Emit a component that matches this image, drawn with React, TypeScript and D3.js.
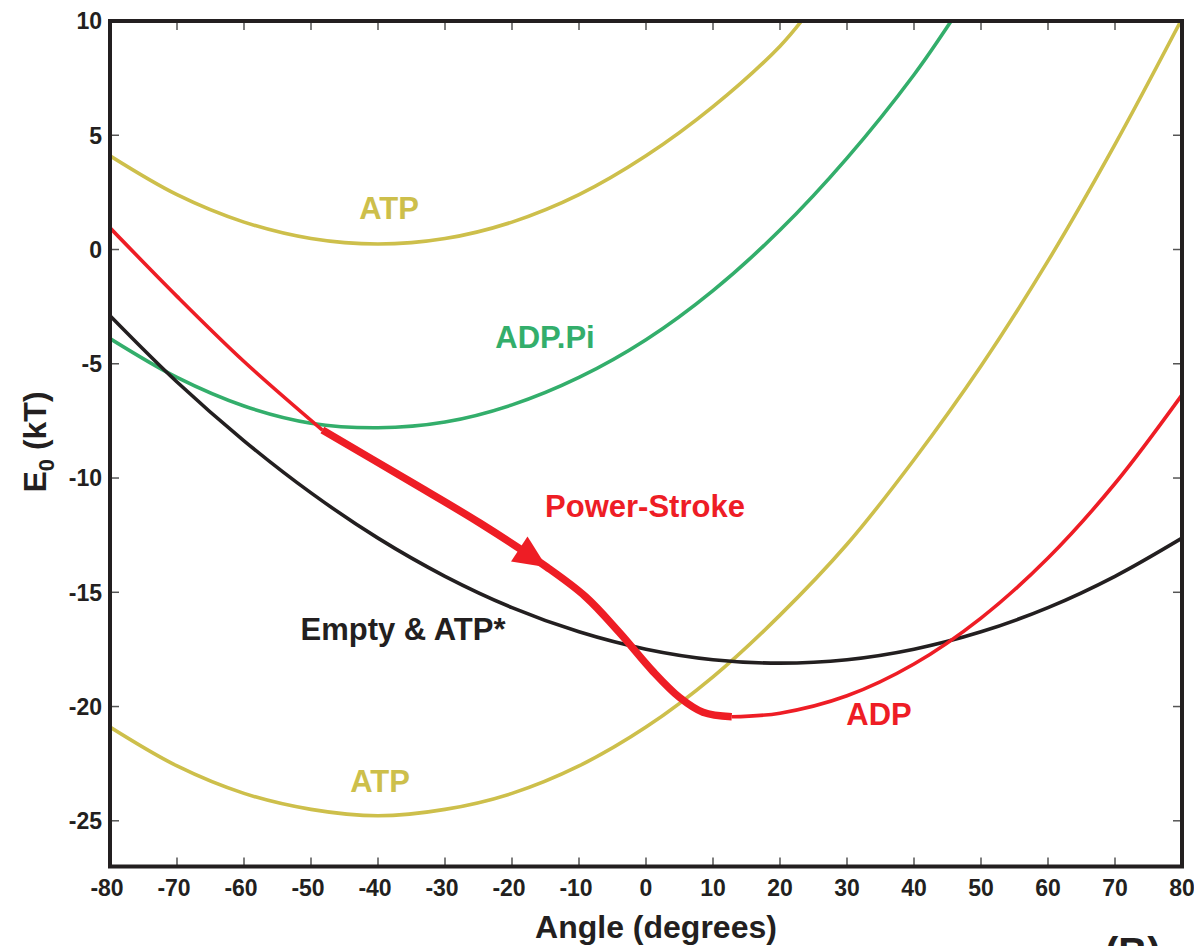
import React from "react";
import * as d3 from "d3";

// Free-energy curves E0 (kT) against lever angle (degrees)
const xTicks = [-80, -70, -60, -50, -40, -30, -20, -10, 0, 10, 20, 30, 40, 50, 60, 70, 80];
const yTicks = [-25, -20, -15, -10, -5, 0, 5, 10];

type Pt = [number, number];

// ATP state (upper well)
const atpUpper: Pt[] = [
  [-80, 4.1], [-70, 2.4], [-60, 1.2], [-50, 0.48], [-40, 0.24], [-30, 0.48],
  [-20, 1.2], [-10, 2.4], [0, 4.1], [10, 6.25], [20, 8.9], [24, 10.3],
];

// ATP state (lower well)
const atpLower: Pt[] = [
  [-80, -20.9], [-70, -22.6], [-60, -23.8], [-50, -24.5], [-40, -24.78], [-30, -24.5],
  [-20, -23.8], [-10, -22.6], [0, -20.9], [10, -18.7], [20, -16.0], [30, -12.9],
  [40, -9.2], [50, -5.1], [60, -0.5], [70, 4.6], [80, 10.1],
];

// ADP.Pi state
const adpPi: Pt[] = [
  [-80, -3.9], [-70, -5.6], [-60, -6.85], [-50, -7.6], [-40, -7.8], [-30, -7.55],
  [-20, -6.8], [-10, -5.6], [0, -3.95], [10, -1.8], [20, 0.85], [30, 4.0],
  [40, 7.65], [46, 10.2],
];

// Empty & ATP* state
const emptyAtp: Pt[] = [
  [-80, -2.9], [-70, -5.8], [-60, -8.37], [-50, -10.65], [-40, -12.63], [-30, -14.3],
  [-20, -15.67], [-10, -16.73], [0, -17.49], [10, -17.95], [20, -18.1], [30, -17.95],
  [40, -17.49], [50, -16.73], [60, -15.67], [70, -14.3], [80, -12.63],
];

// ADP state, before the stroke begins
const adpLeft: Pt[] = [
  [-80, 0.95], [-70, -2.05], [-60, -4.9], [-48.3, -7.9],
];

// Power stroke path (thick)
const powerStroke: Pt[] = [
  [-48.3, -7.9], [-34.8, -10.22], [-24.8, -11.97], [-14.8, -13.9],
  [-9, -15.2], [-4, -16.75], [1, -18.45], [5, -19.6], [8.5, -20.25], [12.8, -20.45],
];
const arrowIndex = 3;

// ADP state, after the stroke
const adpRight: Pt[] = [
  [12.8, -20.45], [20, -20.29], [30, -19.53], [40, -18.14], [50, -16.13],
  [60, -13.5], [70, -10.24], [80, -6.36],
];

const W = 1194;
const H = 946;
const left = 110;
const right = 1182;
const top = 21;
const bottom = 866.5;

const COL = {
  yellow: "#CDBF4B",
  green: "#33AE6B",
  red: "#EE1D25",
  black: "#231F20",
  tick: "#555555",
};

const FONT = "'Liberation Sans', Arial, Helvetica, sans-serif";

export default function App() {
  const x = d3.scaleLinear().domain([-80, 80]).range([left, right]);
  const y = d3.scaleLinear().domain([-27, 10]).range([bottom, top]);

  const line = d3
    .line<Pt>()
    .x((d) => x(d[0]))
    .y((d) => y(d[1]))
    .curve(d3.curveCatmullRom.alpha(0.5));

  // arrowhead on the power stroke, oriented along the path
  const tip = powerStroke[arrowIndex];
  const prev = powerStroke[arrowIndex - 1];
  const tx = x(tip[0]);
  const ty = y(tip[1]);
  const ang = Math.atan2(ty - y(prev[1]), tx - x(prev[0]));
  const aLen = 33;
  const aHalf = 15;
  const bx = tx - aLen * Math.cos(ang);
  const by = ty - aLen * Math.sin(ang);
  const px = -Math.sin(ang);
  const py = Math.cos(ang);
  const arrowPts = [
    [tx, ty],
    [bx + aHalf * px, by + aHalf * py],
    [bx - aHalf * px, by - aHalf * py],
  ]
    .map((p) => p.join(","))
    .join(" ");

  const tickLen = 9;
  const lw = 3.6;

  return (
    <svg
      width={W}
      height={H}
      style={{ position: "absolute", left: 0, top: 0, background: "#fff" }}
      fontFamily={FONT}
      fontWeight="bold"
    >
      <defs>
        <clipPath id="plot">
          <rect x={left} y={top} width={right - left} height={bottom - top} />
        </clipPath>
      </defs>

      <g clipPath="url(#plot)" fill="none" strokeLinecap="butt">
        <path d={line(atpUpper) ?? ""} stroke={COL.yellow} strokeWidth={lw} />
        <path d={line(atpLower) ?? ""} stroke={COL.yellow} strokeWidth={lw} />
        <path d={line(adpPi) ?? ""} stroke={COL.green} strokeWidth={lw} />
        <path d={line(emptyAtp) ?? ""} stroke={COL.black} strokeWidth={lw} />
        <path d={line(adpLeft) ?? ""} stroke={COL.red} strokeWidth={lw} />
        <path d={line(adpRight) ?? ""} stroke={COL.red} strokeWidth={lw} />
        <path d={line(powerStroke) ?? ""} stroke={COL.red} strokeWidth={7.5} />
        <polygon points={arrowPts} fill={COL.red} />
      </g>

      {/* ticks on all four sides, pointing inward */}
      <g stroke={COL.tick} strokeWidth={1.5}>
        {xTicks.map((t) => (
          <g key={"xt" + t}>
            <line x1={x(t)} x2={x(t)} y1={bottom} y2={bottom - tickLen} />
            <line x1={x(t)} x2={x(t)} y1={top} y2={top + tickLen} />
          </g>
        ))}
        {yTicks.map((t) => (
          <g key={"yt" + t}>
            <line x1={left} x2={left + tickLen} y1={y(t)} y2={y(t)} />
            <line x1={right} x2={right - tickLen} y1={y(t)} y2={y(t)} />
          </g>
        ))}
      </g>

      <rect
        x={left}
        y={top}
        width={right - left}
        height={bottom - top}
        fill="none"
        stroke={COL.black}
        strokeWidth={4}
      />

      <g fill={COL.black} fontSize={23}>
        {xTicks.map((t) => (
          <text key={"xl" + t} x={x(t) + (t < 0 ? -3 : 0)} y={896} textAnchor="middle">
            {t}
          </text>
        ))}
        {yTicks.map((t) => (
          <text key={"yl" + t} x={102} y={y(t)} dy="0.36em" textAnchor="end">
            {t}
          </text>
        ))}
      </g>

      <text x={656} y={938} textAnchor="middle" fontSize={32} fill={COL.black}>
        Angle (degrees)
      </text>
      <text
        transform={`translate(46, 442) rotate(-90)`}
        textAnchor="middle"
        fontSize={32}
        fill={COL.black}
      >
        E<tspan fontSize={22} dy={8}>0</tspan>
        <tspan dy={-8}> (kT)</tspan>
      </text>

      <g fontSize={31}>
        <text x={389} y={219} textAnchor="middle" fill={COL.yellow}>ATP</text>
        <text x={545} y={348} textAnchor="middle" fill={COL.green}>ADP.Pi</text>
        <text x={645} y={517} textAnchor="middle" fill={COL.red}>Power-Stroke</text>
        <text x={403} y={640} textAnchor="middle" fill={COL.black}>Empty &amp; ATP*</text>
        <text x={879} y={725} textAnchor="middle" fill={COL.red}>ADP</text>
        <text x={380} y={792} textAnchor="middle" fill={COL.yellow}>ATP</text>
      </g>

      <text x={1105} y={966} fontSize={40} fill={COL.black}>(B)</text>
    </svg>
  );
}
